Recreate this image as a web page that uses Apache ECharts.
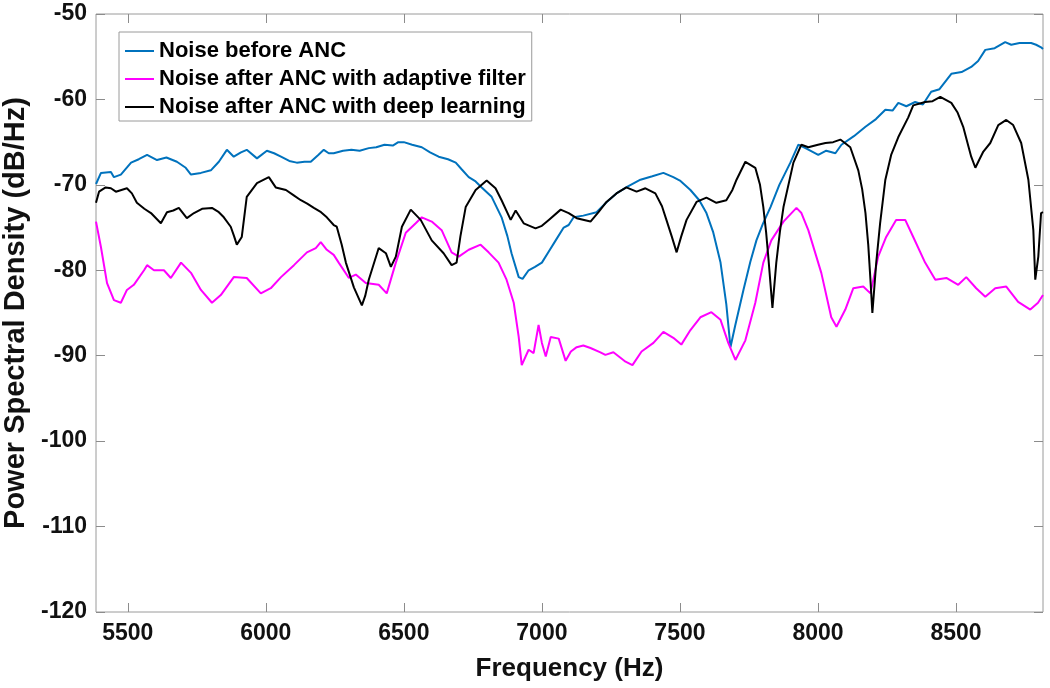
<!DOCTYPE html>
<html>
<head>
<meta charset="utf-8">
<script src="https://cdn.jsdelivr.net/npm/echarts@6/dist/echarts.min.js"></script>
<style>html,body{margin:0;padding:0;background:#fff}#c{width:1050px;height:688px}</style>
</head>
<body>
<div id="c"></div>
<script>
const seriesNames = ['Noise before ANC', 'Noise after ANC with adaptive filter', 'Noise after ANC with deep learning'];
const xTicks = [5500, 6000, 6500, 7000, 7500, 8000, 8500];
const yTicks = [-120, -110, -100, -90, -80, -70, -60, -50];

const blueFreq = [5385,5403,5439,5450,5475,5512,5540,5570,5606,5640,5678,5710,5729,5765,5801,5830,5859,5884,5910,5931,5968,6004,6030,6055,6085,6112,6140,6163,6190,6210,6228,6246,6280,6310,6340,6373,6400,6430,6460,6480,6500,6530,6565,6595,6626,6660,6688,6710,6735,6760,6782,6818,6854,6875,6890,6916,6930,6952,6975,7000,7025,7050,7079,7097,7115,7150,7198,7235,7270,7310,7357,7400,7440,7476,7500,7538,7570,7596,7620,7647,7668,7683,7700,7730,7755,7777,7800,7828,7860,7900,7929,7960,8001,8030,8063,8085,8130,8172,8210,8244,8270,8291,8320,8352,8380,8410,8440,8483,8520,8555,8580,8606,8640,8678,8700,8730,8772,8790,8808,8815];
const blueDb = [-69.9,-68.6,-68.5,-69.1,-68.8,-67.4,-67.0,-66.5,-67.1,-66.8,-67.3,-68.0,-68.8,-68.6,-68.3,-67.3,-65.9,-66.7,-66.2,-65.9,-66.9,-66.0,-66.3,-66.7,-67.2,-67.4,-67.3,-67.3,-66.5,-65.9,-66.3,-66.3,-66.0,-65.9,-66.0,-65.7,-65.6,-65.3,-65.4,-65.0,-65.0,-65.3,-65.6,-66.2,-66.7,-67.0,-67.4,-68.2,-69.1,-69.6,-70.3,-71.4,-73.8,-76.0,-78.0,-80.8,-81.0,-80.0,-79.6,-79.1,-77.8,-76.5,-75.0,-74.7,-73.8,-73.6,-73.2,-72.0,-71.0,-70.2,-69.4,-69.0,-68.6,-69.1,-69.5,-70.6,-71.8,-73.3,-75.5,-79.1,-84.0,-89.0,-86.5,-82.3,-79.0,-76.5,-74.6,-72.6,-70.0,-67.4,-65.3,-65.8,-66.5,-66.0,-66.3,-65.3,-64.3,-63.2,-62.3,-61.2,-61.3,-60.4,-60.8,-60.3,-60.6,-59.1,-58.8,-57.0,-56.8,-56.2,-55.5,-54.2,-54.0,-53.3,-53.6,-53.4,-53.4,-53.6,-53.9,-54.1];

const magFreq = [5385,5403,5425,5450,5475,5497,5522,5559,5570,5595,5631,5656,5693,5729,5765,5805,5837,5884,5931,5982,6018,6055,6102,6149,6181,6199,6221,6246,6264,6301,6326,6362,6409,6438,6471,6507,6543,6565,6601,6637,6673,6699,6735,6778,6807,6843,6872,6898,6916,6927,6952,6970,6988,7000,7014,7032,7061,7086,7105,7126,7150,7176,7212,7230,7259,7303,7328,7361,7404,7440,7476,7505,7538,7574,7614,7647,7675,7701,7737,7773,7802,7831,7875,7922,7940,7965,8012,8048,8067,8099,8128,8164,8190,8218,8247,8283,8316,8345,8388,8425,8465,8508,8537,8573,8606,8642,8682,8725,8769,8797,8815];
const magDb = [-74.3,-77.3,-81.5,-83.5,-83.8,-82.3,-81.7,-80.0,-79.4,-80.0,-80.0,-80.9,-79.1,-80.3,-82.3,-83.8,-82.9,-80.8,-80.9,-82.7,-82.1,-80.8,-79.4,-77.9,-77.4,-76.7,-77.6,-78.2,-79.1,-80.9,-80.5,-81.5,-81.7,-82.7,-79.1,-75.6,-74.5,-73.8,-74.3,-75.3,-77.9,-78.4,-77.6,-77.0,-77.9,-79.1,-81.1,-83.8,-87.8,-91.1,-89.3,-89.7,-86.4,-88.5,-90.1,-87.8,-88.0,-90.6,-89.5,-89.0,-88.8,-89.1,-89.6,-89.9,-89.6,-90.7,-91.1,-89.5,-88.5,-87.2,-87.9,-88.7,-87.0,-85.5,-84.9,-85.8,-88.5,-90.5,-88.2,-83.8,-79.1,-76.5,-74.3,-72.7,-73.3,-75.3,-80.3,-85.5,-86.6,-84.6,-82.1,-81.9,-82.7,-78.4,-76.1,-74.1,-74.1,-76.1,-79.1,-81.1,-80.9,-81.7,-80.8,-82.1,-83.1,-82.1,-81.9,-83.7,-84.6,-83.8,-82.9];

const blackFreq = [5385,5396,5420,5439,5457,5497,5515,5533,5560,5584,5620,5642,5665,5685,5714,5740,5769,5805,5830,5848,5873,5885,5895,5913,5931,5968,6011,6036,6073,6100,6127,6150,6174,6200,6221,6246,6257,6275,6290,6319,6348,6360,6373,6409,6435,6453,6471,6493,6525,6561,6601,6644,6673,6691,6705,6724,6760,6800,6832,6854,6887,6905,6934,6977,7000,7025,7068,7097,7126,7176,7205,7234,7270,7306,7343,7375,7411,7435,7451,7470,7488,7505,7524,7560,7596,7632,7668,7690,7705,7737,7773,7790,7802,7812,7820,7835,7849,7862,7875,7911,7940,7965,8000,8027,8055,8081,8117,8146,8160,8172,8182,8190,8197,8211,8225,8244,8265,8291,8327,8345,8388,8415,8443,8483,8505,8526,8545,8555,8570,8585,8599,8624,8653,8682,8707,8736,8762,8780,8787,8798,8808,8815];
const blackDb = [-72.1,-70.8,-70.3,-70.4,-70.8,-70.4,-71.0,-72.1,-72.8,-73.3,-74.5,-73.2,-73.0,-72.7,-73.9,-73.3,-72.8,-72.7,-73.2,-73.8,-74.9,-76.0,-77.0,-76.1,-71.4,-69.8,-69.1,-70.3,-70.6,-71.2,-71.8,-72.2,-72.7,-73.2,-73.8,-74.7,-74.9,-77.0,-79.1,-82.0,-84.1,-83.0,-81.1,-77.4,-78.0,-79.6,-78.4,-74.9,-72.9,-74.1,-76.5,-78.0,-79.4,-79.1,-76.0,-72.6,-70.6,-69.5,-70.4,-71.8,-74.1,-73.0,-74.5,-75.1,-74.8,-74.1,-72.9,-73.3,-73.9,-74.3,-73.2,-72.0,-71.0,-70.3,-70.8,-70.4,-71.0,-72.5,-74.1,-76.0,-77.9,-76.0,-74.1,-72.0,-71.5,-72.1,-71.8,-70.6,-69.4,-67.3,-68.0,-70.0,-72.6,-75.5,-78.4,-84.4,-79.1,-75.5,-72.6,-67.4,-65.3,-65.6,-65.3,-65.1,-65.0,-64.7,-65.6,-68.3,-70.5,-73.3,-77.0,-81.1,-85.0,-79.1,-74.5,-69.4,-66.5,-64.4,-62.1,-60.7,-60.3,-60.2,-59.7,-60.4,-61.5,-63.2,-65.5,-66.7,-68.0,-67.0,-66.1,-65.1,-63.0,-62.4,-63.0,-65.1,-69.4,-75.3,-81.1,-78.4,-73.3,-73.2];

const colors = ['#0072BD', '#FF00FF', '#000000'];
const zip = (xs, ys) => xs.map((x, i) => [x, ys[i]]);
const FONT = '"Liberation Sans", Arial, sans-serif';
const XMIN = 5385, XMAX = 8815, YMIN = -120, YMAX = -50;
const tickStyle = { show: true, inside: true, length: 9, lineStyle: { color: '#8c8c8c', width: 1 } };

const chart = echarts.init(document.getElementById('c'), null, { renderer: 'canvas' });
chart.setOption({
  animation: false,
  backgroundColor: '#ffffff',
  grid: { left: 96, right: 7, top: 14, bottom: 76, containLabel: false, outerBoundsMode: 'none', show: true, borderColor: '#9a9a9a', borderWidth: 1, backgroundColor: 'transparent' },
  legend: {
    orient: 'vertical', left: 119, top: 32,
    data: seriesNames,
    icon: 'rect', itemWidth: 29, itemHeight: 2, itemGap: 6,
    padding: [8, 6, 3, 6],
    borderColor: '#9a9a9a', borderWidth: 1, backgroundColor: '#fff',
    textStyle: { fontFamily: FONT, fontWeight: 'bold', fontSize: 22, color: '#000', lineHeight: 22, padding: [0, 0, 0, 0] }
  },
  xAxis: [{
    type: 'value', min: XMIN, max: XMAX, position: 'bottom',
    name: 'Frequency (Hz)', nameLocation: 'middle', nameGap: 44,
    nameTextStyle: { fontFamily: FONT, fontWeight: 'bold', fontSize: 26, color: '#111' },
    axisLine: { show: false },
    axisTick: Object.assign({ customValues: xTicks }, tickStyle),
    axisLabel: { customValues: xTicks, formatter: v => String(v), fontFamily: FONT, fontWeight: 'bold', fontSize: 23, color: '#111', margin: 10 },
    splitLine: { show: false }
  }, {
    type: 'value', min: XMIN, max: XMAX, position: 'top',
    axisLine: { show: false },
    axisTick: Object.assign({ customValues: xTicks }, tickStyle),
    axisLabel: { show: false }, splitLine: { show: false }
  }],
  yAxis: [{
    type: 'value', min: YMIN, max: YMAX, interval: 10, position: 'left',
    name: 'Power Spectral Density (dB/Hz)', nameLocation: 'middle', nameGap: 63, nameRotate: 90,
    nameTextStyle: { fontFamily: FONT, fontWeight: 'bold', fontSize: 29, color: '#111' },
    axisLine: { show: false },
    axisTick: tickStyle,
    axisLabel: { customValues: yTicks, formatter: v => String(v), fontFamily: FONT, fontWeight: 'bold', fontSize: 23, color: '#111', margin: 9 },
    splitLine: { show: false }
  }, {
    type: 'value', min: YMIN, max: YMAX, interval: 10, position: 'right',
    axisLine: { show: false }, axisTick: tickStyle,
    axisLabel: { show: false }, splitLine: { show: false }
  }],
  series: [
    { name: seriesNames[0], type: 'line', data: zip(blueFreq, blueDb), symbol: 'none', lineStyle: { color: colors[0], width: 2 }, itemStyle: { color: colors[0] }, z: 2 },
    { name: seriesNames[1], type: 'line', data: zip(magFreq, magDb), symbol: 'none', lineStyle: { color: colors[1], width: 2 }, itemStyle: { color: colors[1] }, z: 3 },
    { name: seriesNames[2], type: 'line', data: zip(blackFreq, blackDb), symbol: 'none', lineStyle: { color: colors[2], width: 2 }, itemStyle: { color: colors[2] }, z: 4 }
  ]
});
</script>
</body>
</html>
